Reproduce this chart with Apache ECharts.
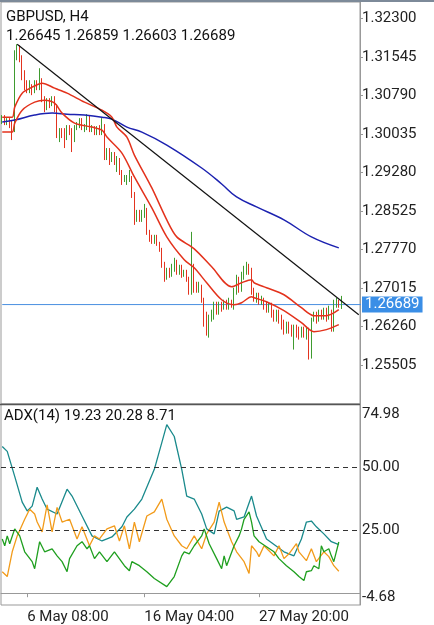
<!DOCTYPE html>
<html><head><meta charset="utf-8">
<script src="https://cdn.jsdelivr.net/npm/echarts@6/dist/echarts.min.js"></script>
<style>html,body{margin:0;padding:0;background:#fff}#c{width:434px;height:625px}</style>
</head><body><div id="c"></div><script>
const symbolTitle = 'GBPUSD, H4';
const startTime = Date.UTC(2024, 4, 2, 16);
const totalSlots = 144;
const xTickLabels = ['6 May 08:00', '16 May 04:00', '27 May 20:00'];
const priceTicks = [1.32300, 1.31545, 1.30790, 1.30035, 1.29280, 1.28525, 1.27770, 1.27015, 1.26260, 1.25505];
const priceMin = 1.2474, priceMax = 1.3262;
const adxTickLabels = ['74.98', '50.00', '25.00', '-4.68'];
const adxTickPos = [71.0, 50, 25, -1.6];
const adxMin = -4.68, adxMax = 74.98;
const adxLevels = [50, 25];

// [open, close, low, high]
const ohlc = [
[1.30305,1.30344,1.30227,1.30403],[1.30344,1.30266,1.30207,1.30403],[1.30266,1.30305,1.30207,1.30344],[1.30305,1.30227,1.30148,1.30344],[1.30227,1.30109,1.29914,1.30305],
[1.30109,1.31576,1.30070,1.31674],[1.31576,1.31713,1.31478,1.31791],[1.31713,1.31518,1.31439,1.31772],[1.31518,1.31185,1.31087,1.31576],[1.31185,1.30989,1.30892,1.31283],
[1.30989,1.30931,1.30833,1.31087],[1.30892,1.30989,1.30833,1.31087],[1.30989,1.30892,1.30794,1.31009],[1.30892,1.31009,1.30833,1.31087],[1.31009,1.30970,1.30892,1.31087],
[1.30931,1.31087,1.30892,1.31322],[1.31087,1.30696,1.30657,1.31126],[1.30696,1.30540,1.30461,1.30774],[1.30540,1.30696,1.30500,1.30735],[1.30696,1.30618,1.30540,1.30735],
[1.30618,1.30735,1.30579,1.30774],[1.30735,1.30579,1.30461,1.30774],[1.30579,1.30011,1.29953,1.30618],[1.30011,1.30109,1.29874,1.30148],[1.30109,1.30011,1.29953,1.30148],
[1.30109,1.29953,1.29757,1.30148],[1.29953,1.30148,1.29914,1.30207],[1.30148,1.30070,1.30011,1.30207],[1.30109,1.29914,1.29679,1.30148],[1.29914,1.30148,1.29874,1.30207],
[1.30148,1.30207,1.30109,1.30266],[1.30187,1.30305,1.30148,1.30344],[1.30305,1.30148,1.30109,1.30344],[1.30148,1.30187,1.30070,1.30227],[1.30148,1.30344,1.30109,1.30422],
[1.30344,1.30109,1.30070,1.30403],[1.30109,1.30148,1.30070,1.30207],[1.30148,1.30070,1.30011,1.30187],[1.30070,1.30148,1.30011,1.30187],[1.30148,1.30070,1.30011,1.30207],
[1.30070,1.30187,1.30011,1.30344],[1.30187,1.29620,1.29522,1.30227],[1.29620,1.29718,1.29522,1.29757],[1.29718,1.29522,1.29425,1.29757],[1.29522,1.29620,1.29483,1.29679],
[1.29620,1.29483,1.29425,1.29679],[1.29425,1.29562,1.29288,1.29601],[1.29522,1.29288,1.29229,1.29562],[1.29288,1.29092,1.29034,1.29327],[1.29131,1.29170,1.29092,1.29229],
[1.29092,1.29209,1.29034,1.29229],[1.29131,1.29229,1.29092,1.29327],[1.29170,1.28838,1.28779,1.29209],[1.28838,1.28310,1.28251,1.28896],[1.28349,1.28505,1.28310,1.28545],
[1.28505,1.28388,1.28310,1.28545],[1.28349,1.28505,1.28310,1.28545],[1.28447,1.28584,1.28388,1.28662],[1.28545,1.28114,1.28056,1.28584],[1.28114,1.27997,1.27919,1.28154],
[1.27997,1.27958,1.27879,1.28056],[1.27919,1.28016,1.27879,1.28056],[1.27997,1.27879,1.27840,1.28056],[1.27879,1.27762,1.27723,1.27919],[1.27762,1.27469,1.27410,1.27801],
[1.27469,1.27214,1.27136,1.27527],[1.27234,1.27371,1.27176,1.27410],[1.27332,1.27273,1.27214,1.27410],[1.27273,1.27449,1.27234,1.27488],[1.27371,1.27527,1.27332,1.27606],
[1.27527,1.27332,1.27273,1.27567],[1.27332,1.27410,1.27273,1.27469],[1.27410,1.27253,1.27214,1.27469],[1.27273,1.27332,1.27234,1.27371],[1.27332,1.27176,1.27136,1.27371],
[1.27176,1.26940,1.26882,1.27234],[1.27038,1.27430,1.26882,1.28114],[1.27430,1.27078,1.26921,1.27488],[1.27078,1.26980,1.26921,1.27136],[1.26980,1.27078,1.26921,1.27136],
[1.27019,1.26784,1.26725,1.27078],[1.26784,1.26432,1.26256,1.26823],[1.26491,1.26158,1.26080,1.26549],[1.26158,1.26432,1.26041,1.26491],[1.26432,1.26530,1.26354,1.26589],
[1.26432,1.26686,1.26393,1.26745],[1.26686,1.26549,1.26491,1.26745],[1.26549,1.26686,1.26491,1.26745],[1.26686,1.26627,1.26549,1.26745],[1.26627,1.26725,1.26589,1.26784],
[1.26725,1.26647,1.26589,1.26784],[1.26647,1.26745,1.26589,1.26823],[1.26745,1.26686,1.26627,1.26784],[1.26686,1.26980,1.26589,1.27019],[1.26940,1.27176,1.26882,1.27273],
[1.27176,1.26980,1.26921,1.27234],[1.26980,1.27253,1.26940,1.27332],[1.27214,1.27371,1.27176,1.27449],[1.27332,1.27469,1.27273,1.27527],[1.27410,1.27371,1.27273,1.27488],
[1.27371,1.26940,1.26882,1.27410],[1.26940,1.26823,1.26745,1.27019],[1.26784,1.26862,1.26725,1.26921],[1.26862,1.26745,1.26686,1.26921],[1.26745,1.26784,1.26686,1.26862],
[1.26784,1.26667,1.26589,1.26823],[1.26706,1.26589,1.26530,1.26745],[1.26589,1.26667,1.26530,1.26725],[1.26667,1.26491,1.26432,1.26725],[1.26549,1.26393,1.26354,1.26589],
[1.26393,1.26530,1.26354,1.26589],[1.26530,1.26393,1.26315,1.26589],[1.26432,1.26236,1.26198,1.26491],[1.26354,1.26158,1.26100,1.26393],[1.26198,1.26295,1.26119,1.26354],
[1.26295,1.26198,1.26119,1.26354],[1.26236,1.26119,1.26060,1.26295],[1.26119,1.26236,1.25807,1.26295],[1.26236,1.26100,1.26041,1.26295],[1.26198,1.26060,1.26002,1.26256],
[1.26080,1.26198,1.26041,1.26256],[1.26198,1.26080,1.26041,1.26256],[1.26060,1.26198,1.26002,1.26256],[1.26198,1.25650,1.25611,1.26236],[1.25689,1.26393,1.25630,1.26432],
[1.26393,1.26491,1.26354,1.26549],[1.26491,1.26393,1.26315,1.26549],[1.26393,1.26530,1.26354,1.26589],[1.26510,1.26432,1.26393,1.26589],[1.26432,1.26549,1.26393,1.26627],
[1.26549,1.26432,1.26354,1.26627],[1.26432,1.26549,1.26393,1.26667],[1.26549,1.26236,1.26158,1.26589],[1.26198,1.26725,1.26158,1.26784],[1.26667,1.26745,1.26627,1.26823],
[1.26745,1.26686,1.26627,1.26784],[1.26645,1.26689,1.26603,1.26859]
];

// [bar index, value]
const upperBand = [[0,1.30363],[4,1.30363],[5,1.30559],[8,1.30833],[12,1.30950],[16,1.31029],[21,1.30931],[26,1.30833],[33,1.30657],[40,1.30500],[44,1.30363],[46,1.30168],[50,1.29972],[53,1.29620],[60,1.28975],[66,1.28349],[70,1.28016],[77,1.27782],[84,1.27430],[92,1.27038],[96,1.27117],[100,1.27176],[101,1.27117],[106,1.27019],[113,1.26882],[120,1.26627],[125,1.26471],[130,1.26471],[135,1.26589]];
const lowerBand = [[0,1.30070],[4,1.30070],[5,1.30246],[8,1.30500],[13,1.30657],[17,1.30696],[21,1.30637],[24,1.30442],[29,1.30246],[36,1.30168],[40,1.30109],[42,1.29972],[48,1.29659],[53,1.29190],[60,1.28584],[66,1.28016],[73,1.27567],[77,1.27410],[82,1.27117],[88,1.26784],[93,1.26686],[96,1.26725],[100,1.26843],[101,1.26823],[106,1.26745],[113,1.26569],[120,1.26334],[125,1.26158],[130,1.26198],[135,1.26295]];
const slowMA = [[0,1.30266],[5,1.30305],[13,1.30403],[20,1.30442],[26,1.30422],[33,1.30403],[40,1.30363],[44,1.30324],[50,1.30168],[56,1.30070],[66,1.29816],[80,1.29366],[88,1.29053],[94,1.28798],[102,1.28603],[113,1.28349],[124,1.28016],[135,1.27801]];
const trendLine = [[6,1.31791],[143,1.26491]];

const adxMain = [[0,58.1],[2,56.2],[5,46.3],[8,36.1],[10,32.6],[12,34.5],[14,42.0],[16,37.3],[18,33.3],[22,31.4],[26,41.2],[28,38.5],[32,30.6],[36,22.7],[40,20.7],[44,22.3],[48,26.3],[50,30.2],[53,33.3],[56,37.3],[61,49.1],[64,59.7],[66,66.8],[69,62.1],[72,49.1],[74,38.5],[77,37.3],[80,31.4],[82,25.5],[85,23.5],[87,32.5],[90,34.1],[93,32.6],[94,29.3],[97,30.2],[100,38.5],[102,30.6],[106,21.5],[113,16.4],[117,14.8],[120,21.5],[122,28.2],[124,28.6],[126,26.3],[129,23.5],[132,20.4],[135,19.23]];
const plusDI = [[0,21.5],[1,18.8],[2,22.7],[3,19.6],[5,25.5],[7,22.7],[9,16.4],[12,12.5],[13,9.7],[15,20.4],[17,16.4],[20,17.6],[22,14.8],[24,12.5],[26,8.5],[27,13.7],[30,18.8],[32,20.4],[34,17.6],[35,18.8],[37,13.7],[39,16.4],[42,12.5],[45,16.4],[49,10.9],[51,8.9],[52,12.5],[55,10.9],[58,8.5],[61,5.8],[66,2.6],[69,6.6],[72,14.8],[73,16.4],[75,15.6],[77,18.8],[80,22.7],[81,25.5],[83,19.6],[86,13.7],[88,9.7],[89,14.8],[90,10.9],[93,18.8],[95,22.7],[96,25.5],[97,29.3],[99,32.2],[100,28.2],[101,22.7],[103,20.4],[106,18.4],[109,16.4],[111,13.7],[114,10.9],[117,8.5],[119,6.6],[121,5.0],[122,8.5],[124,8.9],[125,10.9],[127,9.7],[128,18.8],[129,16.4],[131,17.6],[132,14.8],[133,12.5],[135,20.28]];
const minusDI = [[0,8.5],[2,6.6],[4,16.4],[6,22.7],[9,29.3],[11,33.3],[13,31.4],[14,28.2],[16,24.3],[18,35.0],[20,24.3],[22,34.0],[24,28.2],[27,29.3],[30,21.5],[32,26.3],[35,18.8],[37,22.7],[39,21.5],[42,25.5],[45,26.7],[47,20.7],[49,26.7],[51,17.6],[53,28.2],[55,20.4],[58,30.6],[61,32.2],[64,37.3],[65,33.3],[66,29.3],[69,22.7],[72,18.8],[74,17.6],[77,22.7],[80,17.6],[82,23.5],[85,28.2],[87,36.1],[89,28.2],[92,20.4],[94,16.4],[97,12.5],[99,7.8],[100,18.8],[102,16.4],[103,14.5],[105,18.8],[107,16.8],[109,14.8],[111,18.8],[113,13.7],[115,15.6],[118,19.6],[119,16.4],[122,12.9],[124,17.6],[126,12.5],[129,16.4],[131,14.5],[133,10.9],[135,8.71]];

// categories (H4 bar times, weekdays only)
const months = ['Jan','Feb','Mar','Apr','May','Jun','Jul'];
const cats = [];
for (let t = startTime; cats.length < totalSlots; t += 4 * 3600e3) {
  const d = new Date(t), wd = d.getUTCDay();
  if (wd === 0 || wd === 6) continue;
  cats.push(d.getUTCDate() + ' ' + months[d.getUTCMonth()] + ' ' + String(d.getUTCHours()).padStart(2, '0') + ':00');
}

const last = ohlc[ohlc.length - 1];
const lastClose = last[1];
const ohlcText = [last[0], last[3], last[2], last[1]].map(v => v.toFixed(5)).join(' ');
const adxText = 'ADX(14) ' + adxMain[adxMain.length-1][1].toFixed(2) + ' ' + plusDI[plusDI.length-1][1].toFixed(2) + ' ' + minusDI[minusDI.length-1][1].toFixed(2);
const priceLine = [[-0.5, lastClose], [totalSlots - 0.5, lastClose]];

const FONT = 'Roboto';
const FS = 15;
const UP = '#3f9b2f', DOWN = '#e3341f';
const showTick = (i, v) => xTickLabels.indexOf(v) >= 0;
const lineS = (data, color, w, smooth, xi, yi, extra) => Object.assign({
  type: 'line', data, xAxisIndex: xi, yAxisIndex: yi, symbol: 'none', smooth,
  lineStyle: { color, width: w }, silent: true, z: 3, emphasis: { disabled: true }
}, extra || {});
const txt = { fontSize: FS, fontWeight: 'normal', color: '#111', fontFamily: FONT };

const chart = echarts.init(document.getElementById('c'), null, { renderer: 'canvas' });
chart.setOption({
  animation: false,
  backgroundColor: '#fff',
  title: [
    { text: symbolTitle, left: 6, top: 10, padding: 0, textStyle: txt },
    { text: ohlcText, left: 6, top: 29, padding: 0, textStyle: txt },
    { text: adxText, left: 4, top: 409, padding: 0, textStyle: txt }
  ],
  graphic: [
    { type: 'line', shape: { x1: 0, y1: 1, x2: 434, y2: 1 }, style: { stroke: '#7d8a99', lineWidth: 2 }, z: 10 },
    { type: 'line', shape: { x1: 0, y1: 404.5, x2: 360, y2: 404.5 }, style: { stroke: '#555', lineWidth: 1.5 }, z: 10 }
  ],
  grid: [
    { left: 1, top: 2, width: 359, height: 402, show: true, borderColor: '#999', borderWidth: 1 },
    { left: 1, top: 404, width: 359, height: 202, show: true, borderColor: '#999', borderWidth: 1 }
  ],
  xAxis: [
    { gridIndex: 0, type: 'category', data: cats, boundaryGap: true, show: false },
    { gridIndex: 1, type: 'category', data: cats, boundaryGap: true,
      axisLine: { lineStyle: { color: '#999' } },
      axisTick: { show: true, interval: showTick, alignWithLabel: true, length: 4, lineStyle: { color: '#999' } },
      axisLabel: { interval: showTick, align: 'left', fontSize: FS, color: '#222', margin: 5, fontFamily: FONT },
      splitLine: { show: false } }
  ],
  yAxis: [
    { gridIndex: 0, type: 'value', position: 'right', min: priceMin, max: priceMax, scale: true,
      splitLine: { show: false },
      axisLine: { show: true, lineStyle: { color: '#999' } },
      axisTick: { show: true, length: 3, customValues: priceTicks, lineStyle: { color: '#999' } },
      axisLabel: { customValues: priceTicks, formatter: v => v.toFixed(5), fontSize: FS, color: '#222', margin: 2, fontFamily: FONT } },
    { gridIndex: 1, type: 'value', position: 'right', min: adxMin, max: adxMax,
      splitLine: { show: false },
      axisLine: { show: true, lineStyle: { color: '#999' } },
      axisTick: { show: false },
      axisLabel: { customValues: adxTickPos, fontSize: FS, color: '#222', margin: 2, fontFamily: FONT,
        formatter: v => { let b = 0; adxTickPos.forEach((p, i) => { if (Math.abs(p - v) < Math.abs(adxTickPos[b] - v)) b = i; }); return adxTickLabels[b]; } } }
  ],
  series: [
    lineS(priceLine, '#4a8fe0', 1, false, 0, 0, {
      z: 1, clip: false,
      endLabel: { show: true, formatter: lastClose.toFixed(5), color: '#fff', backgroundColor: '#3a8ee6',
        fontSize: FS, padding: [1, 3, 0, 3], distance: 1, fontFamily: FONT } }),
    { type: 'candlestick', data: ohlc, xAxisIndex: 0, yAxisIndex: 0, barWidth: 1, z: 2, silent: true,
      itemStyle: { color: UP, color0: DOWN, borderColor: UP, borderColor0: DOWN, borderWidth: 1 },
      emphasis: { disabled: true } },
    lineS(slowMA, '#1c22b0', 1.5, 0.4, 0, 0),
    lineS(upperBand, '#e3321c', 1.5, 0.3, 0, 0),
    lineS(lowerBand, '#e3321c', 1.5, 0.3, 0, 0),
    lineS(trendLine, '#111', 1.2, false, 0, 0),
    lineS(adxMain, '#1a8a8c', 1.3, false, 1, 1, {
      markLine: { silent: true, symbol: ['none', 'none'], animation: false,
        lineStyle: { color: '#333', width: 1, type: [5, 4] }, label: { show: false },
        data: adxLevels.map(v => ({ yAxis: v })) } }),
    lineS(minusDI, '#f29b1a', 1.3, false, 1, 1),
    lineS(plusDI, '#1f9f1f', 1.3, false, 1, 1)
  ]
});
</script></body></html>
